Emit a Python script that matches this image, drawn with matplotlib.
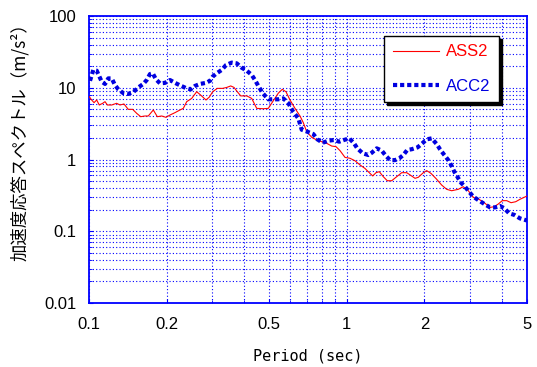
import matplotlib
matplotlib.use("Agg")
import matplotlib.pyplot as plt
from matplotlib.ticker import LogLocator, FixedLocator, FixedFormatter, NullFormatter

plt.rcParams["font.family"] = ["Liberation Sans", "Noto Sans CJK JP"]

# ASS2 (red, thin solid)
ass2_period = [0.1003, 0.1024, 0.1046, 0.1071, 0.1096, 0.1130, 0.1154, 0.1178,
               0.1225, 0.1280, 0.1319, 0.1367, 0.1420, 0.1477, 0.1531, 0.1587,
               0.1649, 0.1698, 0.1776, 0.1841, 0.1914, 0.1989, 0.2062, 0.2156,
               0.2254, 0.2322, 0.2393, 0.2502, 0.2616, 0.2712, 0.2843, 0.2928,
               0.3018, 0.3145, 0.3301, 0.3421, 0.3546, 0.3652, 0.3761, 0.3877,
               0.4090, 0.4277, 0.4472, 0.4745, 0.4960, 0.5159, 0.5424, 0.5620,
               0.5809, 0.6021, 0.6296, 0.6584, 0.6781, 0.6990, 0.7310, 0.7644,
               0.7991, 0.8356, 0.8738, 0.9081, 0.9410, 0.9840, 1.0290, 1.0760,
               1.1252, 1.1765, 1.2303, 1.2604, 1.2981, 1.3369, 1.3855, 1.4358,
               1.4935, 1.5617, 1.6331, 1.7077, 1.7589, 1.8392, 1.8942, 1.9805,
               2.0412, 2.1212, 2.2320, 2.3339, 2.4406, 2.5518, 2.7067, 2.8300,
               2.9600, 3.0953, 3.2567, 3.4363, 3.5934, 3.7343, 3.8700, 4.0105,
               4.1716, 4.3357, 4.5203, 4.6970, 5.0]
ass2_sa = [7.5, 6.75, 6.2, 6.75, 5.75, 6.07, 6.4, 5.75,
           5.75, 6.07, 5.75, 5.94, 5.0, 5.0, 4.4, 3.95,
           4.04, 4.04, 4.9, 3.95, 4.04, 3.87, 4.17, 4.5,
           4.9, 5.16, 6.4, 7.1, 8.8, 7.9, 6.75, 7.4,
           8.8, 9.8, 9.8, 10.1, 10.6, 10.1, 8.8, 7.7,
           7.7, 7.1, 5.16, 5.1, 5.16, 6.4, 8.4, 9.5,
           8.8, 6.75, 5.16, 4.04, 3.26, 2.44, 2.04, 1.87,
           1.77, 1.68, 1.54, 1.51, 1.33, 1.07, 1.04, 0.96,
           0.84, 0.75, 0.64, 0.59, 0.655, 0.676, 0.576, 0.506,
           0.506, 0.576, 0.655, 0.655, 0.61, 0.547, 0.565, 0.655,
           0.70, 0.64, 0.53, 0.44, 0.384, 0.367, 0.384, 0.418,
           0.367, 0.297, 0.279, 0.245, 0.215, 0.22, 0.24, 0.267,
           0.267, 0.25, 0.258, 0.279, 0.31]

# ACC2 (blue, thick dotted)
acc2_period = [0.1009, 0.1039, 0.1071, 0.1120, 0.1154, 0.1188, 0.1225, 0.1261,
               0.1299, 0.1359, 0.1420, 0.1485, 0.1553, 0.1624, 0.1674, 0.1724,
               0.1766, 0.1819, 0.1885, 0.1971, 0.2062, 0.2156, 0.2254, 0.2378,
               0.2480, 0.2577, 0.2695, 0.2843, 0.2947, 0.3018, 0.3128, 0.3271,
               0.3399, 0.3577, 0.3741, 0.3912, 0.4090, 0.4277, 0.4405, 0.4537,
               0.4718, 0.4960, 0.5187, 0.5424, 0.5671, 0.5931, 0.6202, 0.6485,
               0.6685, 0.7028, 0.7417, 0.7686, 0.8064, 0.8479, 0.8920, 0.9352,
               0.9752, 1.0226, 1.0665, 1.0984, 1.1527, 1.2118, 1.2492, 1.3062,
               1.3658, 1.4194, 1.4711, 1.5382, 1.5985, 1.6565, 1.7167, 1.7853,
               1.8836, 1.9627, 2.0412, 2.1345, 2.2320, 2.2987, 2.3888, 2.4756,
               2.5518, 2.6118, 2.6924, 2.7729, 2.8735, 2.9785, 3.0953, 3.2366,
               3.4151, 3.5934, 3.7576, 3.9293, 4.0832, 4.2582, 4.4640, 4.6970,
               4.9114, 5.0]
acc2_sa = [12.5, 17.7, 17.3, 12.2, 11.3, 13.5, 13.5, 10.9,
           9.5, 8.4, 8.2, 8.7, 10.1, 11.3, 12.8, 15.5,
           15.9, 13.1, 11.5, 11.7, 12.8, 11.7, 10.8, 9.9,
           9.5, 10.6, 11.3, 11.7, 12.5, 14.3, 15.9, 17.7,
           20.7, 22.4, 21.9, 19.0, 17.3, 15.1, 12.8, 10.6,
           8.4, 6.9, 6.9, 6.9, 7.1, 6.1, 4.6, 3.75,
           2.6, 2.44, 2.26, 1.91, 1.71, 1.83, 1.87, 1.77,
           1.87, 1.97, 1.68, 1.43, 1.22, 1.155, 1.24, 1.43,
           1.33, 1.12, 0.98, 0.98, 1.04, 1.155, 1.36, 1.39,
           1.48, 1.68, 1.91, 1.97, 1.64, 1.39, 1.155, 0.98,
           0.81, 0.676, 0.565, 0.475, 0.418, 0.356, 0.303, 0.272,
           0.24, 0.215, 0.215, 0.225, 0.209, 0.178, 0.169, 0.151,
           0.144, 0.141]

x_ticks = [0.1, 0.2, 0.5, 1, 2, 5]
x_tick_labels = ["0.1", "0.2", "0.5", "1", "2", "5"]
y_ticks = [0.01, 0.1, 1, 10, 100]
y_tick_labels = ["0.01", "0.1", "1", "10", "100"]

fig = plt.figure(figsize=(5.37, 3.67), dpi=100)
ax = fig.add_axes([89 / 537, 1 - 303 / 367, 438 / 537, 287 / 367])

ax.plot(ass2_period, ass2_sa, color="#ff0000", lw=0.8, label="ASS2", zorder=3)
ax.plot(acc2_period, acc2_sa, color="#0000e0", lw=3.0,
        linestyle=(0, (1, 0.7)), dash_capstyle="butt", label="ACC2", zorder=4)

ax.set_xscale("log")
ax.set_yscale("log")
ax.set_xlim(0.1, 5)
ax.set_ylim(0.01, 100)

ax.xaxis.set_major_locator(FixedLocator(x_ticks))
ax.xaxis.set_major_formatter(FixedFormatter(x_tick_labels))
ax.xaxis.set_minor_locator(LogLocator(base=10, subs=range(2, 10)))
ax.xaxis.set_minor_formatter(NullFormatter())
ax.yaxis.set_major_locator(FixedLocator(y_ticks))
ax.yaxis.set_major_formatter(FixedFormatter(y_tick_labels))
ax.yaxis.set_minor_locator(LogLocator(base=10, subs=range(2, 10)))
ax.yaxis.set_minor_formatter(NullFormatter())

ax.grid(True, which="both", color="#0000ff", linestyle=(0, (1, 2)), lw=0.8)
for s in ax.spines.values():
    s.set_color("#0000ff")
    s.set_linewidth(1.3)
ax.tick_params(which="both", direction="in", color="#0000ff", labelsize=12)
ax.tick_params(which="major", length=3)
ax.tick_params(which="minor", length=2)
ax.tick_params(axis="x", pad=10)
ax.tick_params(axis="y", pad=9)

ax.set_xlabel("Period (sec)", fontsize=11, labelpad=12,
              family="DejaVu Sans Mono")
fig.text(20 / 537, 1 - 138 / 367, "加速度応答スペクトル（m/s²）",
         rotation=90, ha="center", va="center", fontsize=12.5,
         family=["Noto Sans CJK JP", "DejaVu Sans"])

leg = ax.legend(loc="upper right", bbox_to_anchor=(0.936, 0.930),
                borderaxespad=0, handlelength=2.8, labelcolor="linecolor",
                fancybox=False, framealpha=1, edgecolor="black",
                shadow={"color": "black", "alpha": 1, "ox": 2, "oy": -2},
                prop={"family": "Liberation Sans", "size": 12},
                borderpad=0.5, labelspacing=1.15, handletextpad=0.4)
leg.get_frame().set_linewidth(1.0)

fig.savefig("out.png", dpi=100)
